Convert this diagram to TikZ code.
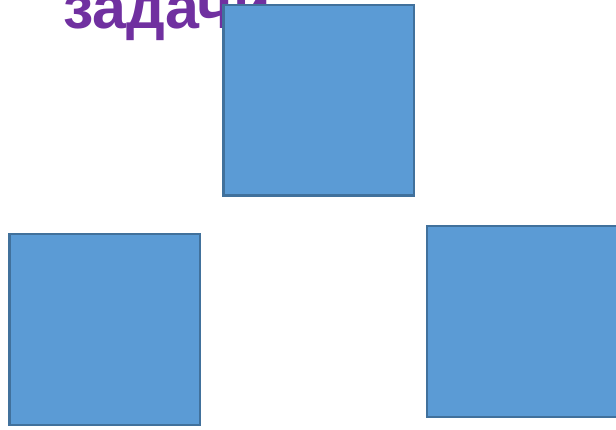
\documentclass[tikz,border=0pt]{standalone}
\usepackage{fontspec}
\usepackage{xcolor}
\usepackage{tikz}
\usetikzlibrary{positioning}
\newfontfamily\headfont{Liberation Sans}[BoldFont={Liberation Sans Bold}]
\definecolor{SL_PURPLE}{HTML}{7030A0}
\definecolor{SL_BLUE}{HTML}{5B9BD5}
\definecolor{SL_EDGE}{HTML}{41719C}
\tikzset{
  heading/.style={
    inner sep=0pt, anchor=base west,
    text=SL_PURPLE, font=\headfont\bfseries\fontsize{61}{61}\selectfont},
  tile/.style={
    rectangle, inner sep=0pt, outer sep=0pt,
    minimum width=190.5pt, minimum height=190.5pt,
    draw=SL_EDGE, fill=SL_BLUE, line width=2.5pt},
}
\begin{document}
\begin{tikzpicture}[x=1pt, y=1pt]

  \useasboundingbox (0,0) rectangle (616,429);
  \clip (0,0) rectangle (616,429);

  \node[heading] (title) at (63,400) {задачи};

  \node[tile, anchor=north west] (top)   at (223.25,423.75) {};
  \node[tile, anchor=north west] (left)  at (9.25,194.75)   {};
  \node[tile, anchor=north west] (right) at (426.75,202.75) {};

\end{tikzpicture}
\end{document}
